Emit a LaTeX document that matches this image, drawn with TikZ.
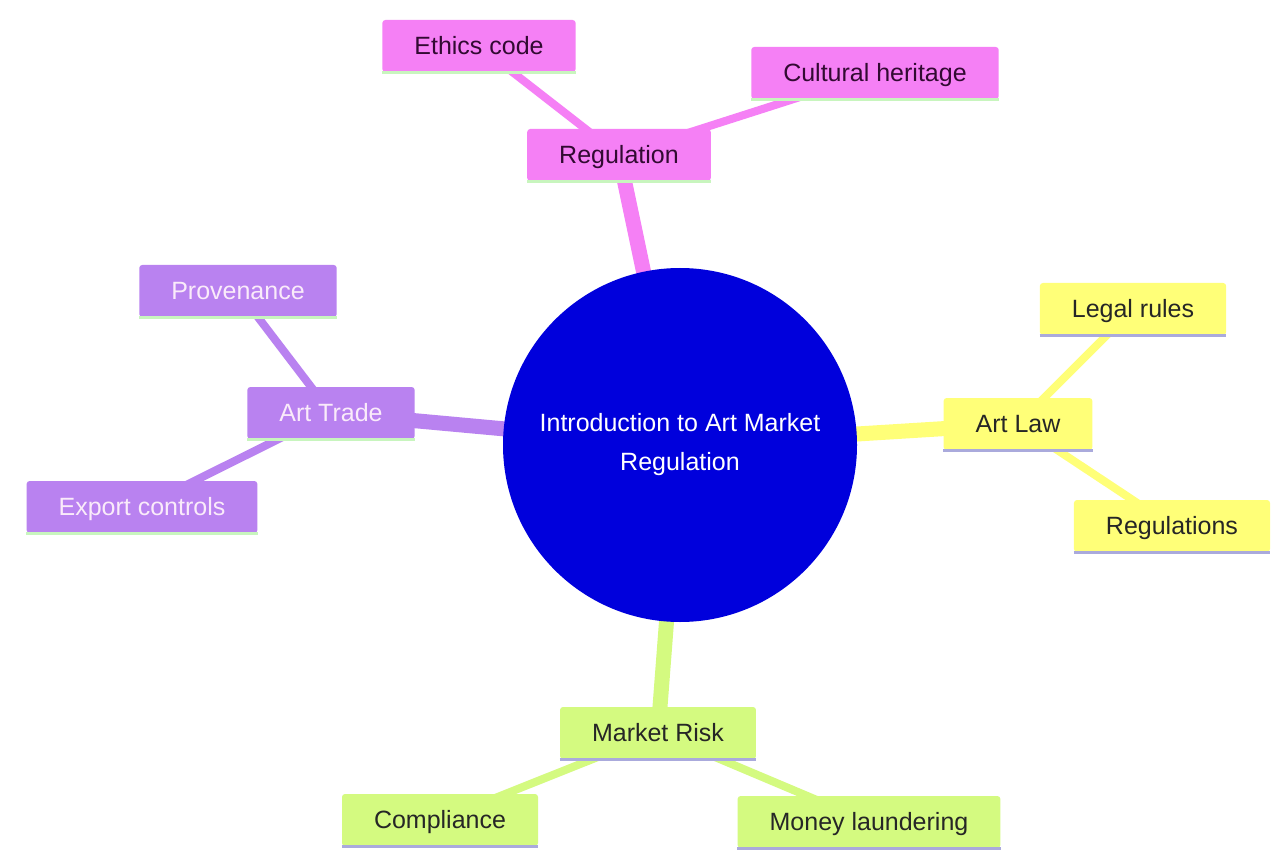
\documentclass[tikz,border=0pt]{standalone}
\usepackage{fontspec}
\setmainfont{Liberation Sans}
\usetikzlibrary{backgrounds}
\definecolor{pinkc}{RGB}{245,128,245}
\definecolor{purpc}{RGB}{185,130,240}
\definecolor{yelc}{RGB}{255,255,120}
\definecolor{grnc}{RGB}{212,250,128}
\definecolor{bluec}{RGB}{0,0,220}
\definecolor{ulgreen}{RGB}{200,245,190}
\definecolor{ullav}{RGB}{170,170,220}
\definecolor{darkpink}{RGB}{50,10,50}
\definecolor{lighttxt}{RGB}{250,235,250}
\tikzset{
  box/.style={rectangle, rounded corners=3pt, inner xsep=32pt, inner ysep=0pt,
    minimum height=52pt, text height=20pt, text depth=3pt,
    font=\fontsize{25}{30}\selectfont},
  pinkbox/.style={box, fill=pinkc, text=darkpink},
  purpbox/.style={box, fill=purpc, text=lighttxt},
  yelbox/.style={box, fill=yelc, text=black!85},
  grnbox/.style={box, fill=grnc, text=black!85},
  mainedge/.style={line width=15pt},
  subedge/.style={line width=8pt},
  ul/.style={line width=3pt}
}
\begin{document}
\begin{tikzpicture}[x=1pt,y=-1pt]
\useasboundingbox (0,0) rectangle (1274,850);
\node[circle, fill=bluec, minimum size=354pt, inner sep=0pt, text=white, align=center,
  font=\fontsize{25}{39}\selectfont] (root) at (680,445) {Introduction to Art Market\\Regulation};

\node[pinkbox] (reg) at (619,155) {Regulation};
\node[pinkbox] (eth) at (479,46) {Ethics code};
\node[pinkbox] (cul) at (875,73) {Cultural heritage};

\node[purpbox] (trade) at (331,413) {Art Trade};
\node[purpbox] (prov) at (238,291) {Provenance};
\node[purpbox] (exp) at (142,507) {Export controls};

\node[yelbox] (law) at (1018,424) {Art Law};
\node[yelbox] (legal) at (1133,309) {Legal rules};
\node[yelbox] (regs) at (1172,526) {Regulations};

\node[grnbox] (risk) at (658,733) {Market Risk};
\node[grnbox] (comp) at (440,820) {Compliance};
\node[grnbox] (money) at (869,822) {Money laundering};

\foreach \n in {reg,eth,cul,trade,prov,exp}
  \draw[ul, ulgreen] (\n.south west) -- (\n.south east);
\foreach \n in {law,legal,regs,risk,comp,money}
  \draw[ul, ullav] (\n.south west) -- (\n.south east);

\begin{scope}[on background layer]
  \fill[white] (0,0) rectangle (1274,850);
  \draw[mainedge, pinkc] (root.center) -- (reg.center);
  \draw[subedge, pinkc] (reg.center) -- (eth.center);
  \draw[subedge, pinkc] (reg.center) -- (cul.center);
  \draw[mainedge, purpc] (root.center) -- (trade.center);
  \draw[subedge, purpc] (trade.center) -- (prov.center);
  \draw[subedge, purpc] (trade.center) -- (exp.center);
  \draw[mainedge, yelc] (root.center) -- (law.center);
  \draw[subedge, yelc] (law.center) -- (legal.center);
  \draw[subedge, yelc] (law.center) -- (regs.center);
  \draw[mainedge, grnc] (root.center) -- (risk.center);
  \draw[subedge, grnc] (risk.center) -- (comp.center);
  \draw[subedge, grnc] (risk.center) -- (money.center);
\end{scope}
\end{tikzpicture}
\end{document}
